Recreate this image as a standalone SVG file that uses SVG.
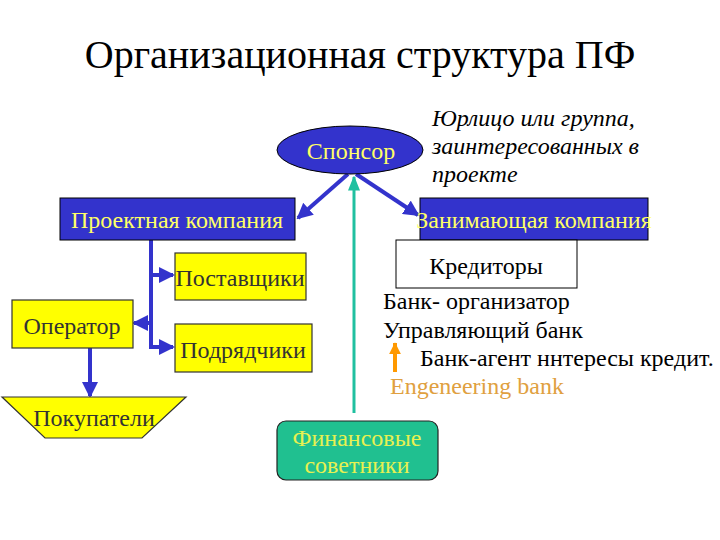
<svg xmlns="http://www.w3.org/2000/svg" width="720" height="540" viewBox="0 0 720 540">
<style>
text{font-family:"Liberation Serif",serif;}
.title{font-size:40px;fill:#000;}
.blue{fill:#3333CC;stroke:#000;stroke-width:1;}
.yel{fill:#FFFF00;stroke:#333;stroke-width:1.2;}
.tb{font-size:24px;fill:#FFFF66;}
.ty{font-size:24px;fill:#333333;}
.tk{font-size:24px;fill:#000;}
.ti{font-size:24px;fill:#000;font-style:italic;}
.bl{stroke:#3333CC;stroke-width:4;fill:none;}
</style>
<defs>
<marker id="ab" markerWidth="4" markerHeight="4" refX="3.5" refY="2" orient="auto" markerUnits="strokeWidth">
<path d="M0,0 L4,2 L0,4 z" fill="#3333CC"/>
</marker>
<marker id="at" markerWidth="5" markerHeight="5" refX="4.5" refY="2.5" orient="auto" markerUnits="strokeWidth">
<path d="M0,0.5 L5,2.5 L0,4.5 z" fill="#20C0A0"/>
</marker>
<marker id="ao" markerWidth="3" markerHeight="3" refX="2.8" refY="1.5" orient="auto" markerUnits="strokeWidth">
<path d="M0,0 L3,1.5 L0,3 z" fill="#FF9900"/>
</marker>
</defs>
<rect width="720" height="540" fill="#fff"/>
<text class="title" x="360" y="68" text-anchor="middle" font-family="Liberation Serif">Организационная структура ПФ</text>

<g id="connectors">
<line class="bl" x1="348" y1="174" x2="298" y2="218" marker-end="url(#ab)"/>
<line class="bl" x1="356" y1="174" x2="418" y2="215" marker-end="url(#ab)"/>
<line x1="354" y1="413" x2="354" y2="177" stroke="#20C0A0" stroke-width="3" marker-end="url(#at)"/>
<polyline class="bl" points="151,240 151,347 160,347" />
<line class="bl" x1="151" y1="275" x2="173" y2="275" marker-end="url(#ab)"/>
<line class="bl" x1="151" y1="347" x2="173" y2="347" marker-end="url(#ab)"/>
<line class="bl" x1="151" y1="323" x2="134" y2="323" stroke-width="3" marker-end="url(#ab)"/>
<line class="bl" x1="90" y1="348" x2="90" y2="396" stroke-width="5" marker-end="url(#ab)"/>
<line x1="395" y1="372" x2="395" y2="343" stroke="#FF9900" stroke-width="4" marker-end="url(#ao)"/>
</g>

<g id="sponsor">
<ellipse cx="350" cy="150" rx="73" ry="24" class="blue"/>
<text class="tb" x="351" y="159" text-anchor="middle">Спонсор</text>
</g>
<g id="sponsor-note">
<text class="ti" x="432" y="126">Юрлицо или группа,</text>
<text class="ti" x="432" y="154">заинтересованных в</text>
<text class="ti" x="432" y="182">проекте</text>
</g>
<g id="project-company">
<rect x="60" y="198" width="235" height="42" class="blue"/>
<text class="tb" x="177" y="228" text-anchor="middle">Проектная компания</text>
</g>
<g id="borrower">
<rect x="420" y="198" width="228" height="42" class="blue"/>
<text class="tb" x="534" y="228" text-anchor="middle">Занимающая компания</text>
</g>
<g id="creditors">
<rect x="396" y="240" width="181" height="48" fill="#fff" stroke="#000" stroke-width="1"/>
<text class="tk" x="486" y="274" text-anchor="middle">Кредиторы</text>
</g>
<g id="banks">
<text class="tk" x="383" y="309">Банк- организатор</text>
<text class="tk" x="383" y="338">Управляющий банк</text>
<text class="tk" x="420" y="366">Банк-агент ннтересы кредит.</text>
<text x="390" y="394" style="font-size:24px;fill:#E0A040;">Engeneering bank</text>
</g>
<g id="suppliers">
<rect x="175" y="253" width="131" height="47" class="yel"/>
<text class="ty" x="240" y="286" text-anchor="middle">Поставщики</text>
</g>
<g id="operator">
<rect x="12" y="300" width="121" height="48" class="yel"/>
<text class="ty" x="72" y="334" text-anchor="middle">Оператор</text>
</g>
<g id="contractors">
<rect x="175" y="324" width="137" height="48" class="yel"/>
<text class="ty" x="243" y="358" text-anchor="middle">Подрядчики</text>
</g>
<g id="buyers">
<polygon points="2,397 186,397 142,438 45,438" class="yel"/>
<text class="ty" x="94" y="426" text-anchor="middle">Покупатели</text>
</g>
<g id="advisors">
<rect x="277" y="421" width="161" height="59" rx="9" fill="#20C090" stroke="#222" stroke-width="1.2"/>
<text x="357" y="446" text-anchor="middle" style="font-size:24px;fill:#E8F050;">Финансовые</text>
<text x="357" y="473" text-anchor="middle" style="font-size:24px;fill:#E8F050;">советники</text>
</g>
</svg>
